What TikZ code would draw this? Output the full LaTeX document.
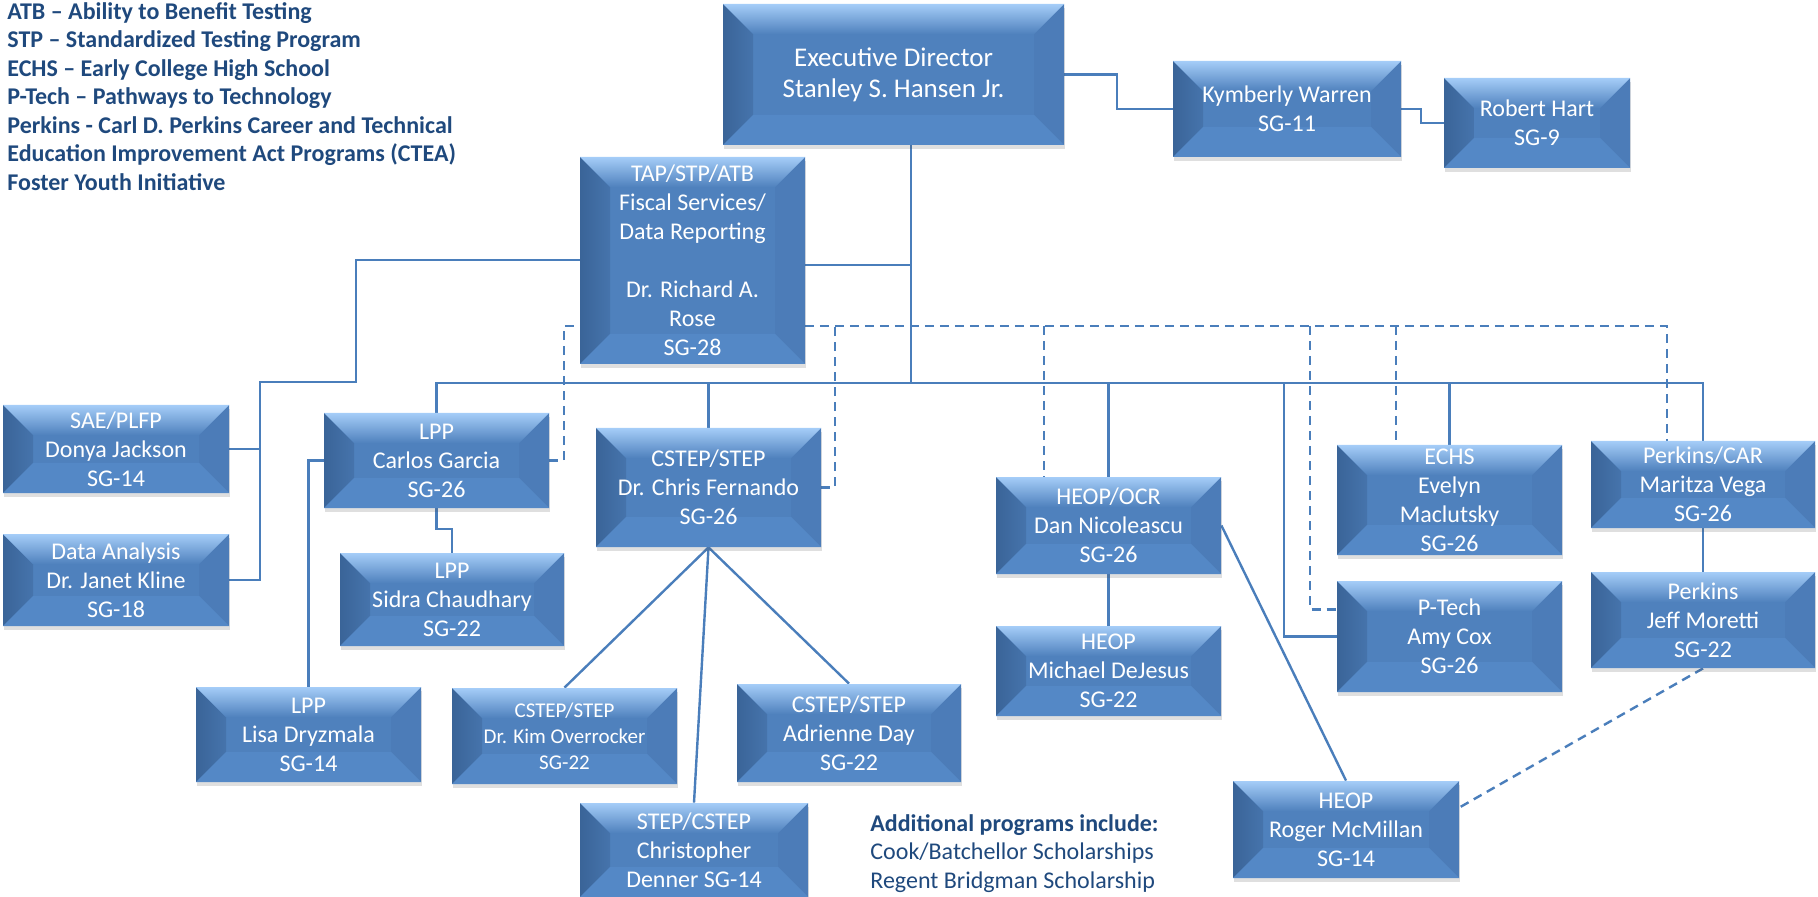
\documentclass[tikz,border=0pt]{standalone}
\usepackage{fontspec}
\setmainfont{Carlito}
\usetikzlibrary{calc,shadows}
\definecolor{bvbase}{RGB}{79,129,189}
\definecolor{bvtop}{RGB}{165,205,248}
\definecolor{bvleftd}{RGB}{58,100,152}
\definecolor{bvleft}{RGB}{70,116,172}
\definecolor{bvright}{RGB}{76,124,184}
\definecolor{bvbot}{RGB}{84,136,198}
\definecolor{lnc}{RGB}{74,126,187}
\definecolor{navy}{RGB}{31,73,125}
\pgfdeclarelayer{bg}
\pgfsetlayers{bg,main}
\tikzset{
  orgbox/.style={rectangle, fill=bvbase, inner sep=0pt, align=center, text=white,
    font=\fontsize{12}{14.5}\selectfont,
    drop shadow={shadow xshift=0.5pt,shadow yshift=-2pt,opacity=0.18,fill=black!70},
    path picture={
      \coordinate (bvnw) at (path picture bounding box.north west);
      \coordinate (bvne) at (path picture bounding box.north east);
      \coordinate (bvsw) at (path picture bounding box.south west);
      \coordinate (bvse) at (path picture bounding box.south east);
      \shade[left color=bvleftd,right color=bvleft] (bvnw) -- ($(bvnw)+(15pt,-15pt)$) -- ($(bvsw)+(15pt,15pt)$) -- (bvsw) -- cycle;
      \fill[bvright] (bvne) -- ($(bvne)+(-15pt,-15pt)$) -- ($(bvse)+(-15pt,15pt)$) -- (bvse) -- cycle;
      \shade[top color=bvtop,bottom color=bvbase] (bvnw) -- (bvne) -- ($(bvne)+(-15pt,-15pt)$) -- ($(bvnw)+(15pt,-15pt)$) -- cycle;
      \fill[bvbot] (bvsw) -- (bvse) -- ($(bvse)+(-15pt,15pt)$) -- ($(bvsw)+(15pt,15pt)$) -- cycle;
    }},
  conn/.style={draw=lnc, line width=1.2pt},
  dsh/.style={draw=lnc, line width=1.2pt, dash pattern=on 4.5pt off 3pt},
}
\newcommand\orgbx[7][]{%
  \pgfmathsetmacro\bw{(#5-#3)*0.5}%
  \pgfmathsetmacro\bh{(#6-#4)*0.5}%
  \pgfmathsetmacro\bcx{(#3+#5)/2}%
  \pgfmathsetmacro\bcy{(#4+#6)/2}%
  \node[orgbox,#1,minimum width=\bw pt,minimum height=\bh pt] (#2) at (\bcx,\bcy) {#7};}
\begin{document}
\begin{tikzpicture}[x=0.5pt,y=-0.5pt]
\useasboundingbox (0,0) rectangle (1818,897);

% legend
\node[anchor=north west, align=left, inner sep=0pt, text=navy,
  font=\bfseries\fontsize{12}{14.25}\selectfont] (leg) at (7,2)
  {ATB – Ability to Benefit Testing\\
   STP – Standardized Testing Program\\
   ECHS – Early College High School\\
   P-Tech – Pathways to Technology\\
   Perkins - Carl D. Perkins Career and Technical\\
   Education Improvement Act Programs (CTEA)\\
   Foster Youth Initiative};

\node[anchor=north west, align=left, inner sep=0pt, text=navy,
  font=\fontsize{12}{14.25}\selectfont] (add) at (870,814)
  {\textbf{Additional programs include:}\\
   Cook/Batchellor Scholarships\\
   Regent Bridgman Scholarship};

% boxes
\orgbx[font=\fontsize{13.5}{15.5}\selectfont]{exec}{723}{4}{1064}{145}{Executive Director\\Stanley S. Hansen Jr.}
\orgbx{kym}{1173}{61}{1401}{157}{Kymberly Warren\\SG-11}
\orgbx{rob}{1444}{78}{1630}{168}{Robert Hart\\SG-9}
\orgbx{tap}{580}{157}{805}{364}{TAP/STP/ATB\\Fiscal Services/\\Data Reporting\\[14.5pt]Dr. Richard A.\\Rose\\SG-28}
\orgbx{don}{3}{405}{229}{493}{SAE/PLFP\\Donya Jackson\\SG-14}
\orgbx{dat}{3}{534}{229}{626}{Data Analysis\\Dr. Janet Kline\\SG-18}
\orgbx{car}{324}{413}{549}{508}{LPP\\Carlos Garcia\\SG-26}
\orgbx{sid}{340}{553}{564}{646}{LPP\\Sidra Chaudhary\\SG-22}
\orgbx{lis}{196}{687}{421}{782}{LPP\\Lisa Dryzmala\\SG-14}
\orgbx{cst}{596}{428}{821}{547}{CSTEP/STEP\\Dr. Chris Fernando\\SG-26}
\orgbx[font=\fontsize{10.5}{13}\selectfont]{ovr}{452}{688}{677}{784}{CSTEP/STEP\\Dr. Kim Overrocker\\SG-22}
\orgbx{adr}{737}{684}{961}{782}{CSTEP/STEP\\Adrienne Day\\SG-22}
\orgbx{den}{580}{803}{808}{897}{STEP/CSTEP\\Christopher\\Denner SG-14}
\orgbx{heo}{996}{477}{1221}{574}{HEOP/OCR\\Dan Nicoleascu\\SG-26}
\orgbx{mic}{996}{626}{1221}{716}{HEOP\\Michael DeJesus\\SG-22}
\orgbx{rog}{1233}{781}{1459}{878}{HEOP\\Roger McMillan\\SG-14}
\orgbx{ech}{1337}{445}{1562}{555}{ECHS\\Evelyn\\Maclutsky\\SG-26}
\orgbx{ptc}{1337}{581}{1562}{692}{P-Tech\\Amy Cox\\SG-26}
\orgbx{pk}{1591}{441}{1815}{528}{Perkins/CAR\\Maritza Vega\\SG-26}
\orgbx{jef}{1591}{572}{1815}{668}{Perkins\\Jeff Moretti\\SG-22}

% helper coordinates
\coordinate (busc) at (0,383);
\coordinate (dashc) at (0,326);
\coordinate (tx) at (911,0);
\coordinate (ty) at (0,265);
\coordinate (kx) at (1117,0);
\coordinate (rx) at (1421,0);
\coordinate (tyl) at (0,260);
\coordinate (lx1) at (356,0);
\coordinate (lyb) at (0,382);
\coordinate (lx2) at (260,0);
\coordinate (px) at (1284,0);
\coordinate (sy) at (0,529);
\coordinate (dlx) at (564,0);
\coordinate (drx) at (1667,0);
\coordinate (dcx) at (835,0);
\coordinate (dhx) at (1044,0);
\coordinate (dpx) at (1310,0);
\coordinate (dex) at (1396,0);

\begin{pgfonlayer}{bg}
\draw[conn] (exec.east) -| (kx |- kym.west) -- (kym.west);
\draw[conn] (kym.east) -| (rx |- rob.west) -- (rob.west);
\draw[conn] (exec.south -| tx) -- (tx |- busc);
\draw[conn] (tap.east |- ty) -- (tx |- ty);
\draw[conn] (tap.west |- tyl) -| (lx1 |- lyb) -| (lx2 |- dat.east) -- (dat.east);
\draw[conn] (don.east) -- (don.east -| lx2);
\draw[conn] (car.north) |- (pk.north |- busc) -- (pk.north);
\draw[conn] (cst.north) -- (cst.north |- busc);
\draw[conn] (heo.north) -- (heo.north |- busc);
\draw[conn] (ech.north) -- (ech.north |- busc);
\draw[conn] (ptc.west) -| (px |- busc);
\draw[conn] (car.south) -- (car.south |- sy) -| (sid.north);
\draw[conn] (car.west) -| (lis.north);
\draw[conn] (cst.south) -- (ovr.north);
\draw[conn] (cst.south) -- (den.north);
\draw[conn] (cst.south) -- (adr.north);
\draw[conn] (heo.south) -- (mic.north);
\draw[conn] (heo.east) -- (rog.north);
\draw[conn] (pk.south) -- (jef.north);
\draw[dsh] (car.east) -| (dlx |- dashc) -- (drx |- dashc) -- (drx |- pk.north);
\draw[dsh] (cst.east) -| (dcx |- dashc);
\draw[dsh] (dhx |- dashc) -- (dhx |- heo.north);
\draw[dsh] (dpx |- dashc) |- ($(ptc.west)+(0,-27)$);
\draw[dsh] (dex |- dashc) -- (dex |- ech.north);
\draw[dsh] (jef.south) -- ($(rog.east)+(0,-22)$);
\end{pgfonlayer}
\end{tikzpicture}
\end{document}
